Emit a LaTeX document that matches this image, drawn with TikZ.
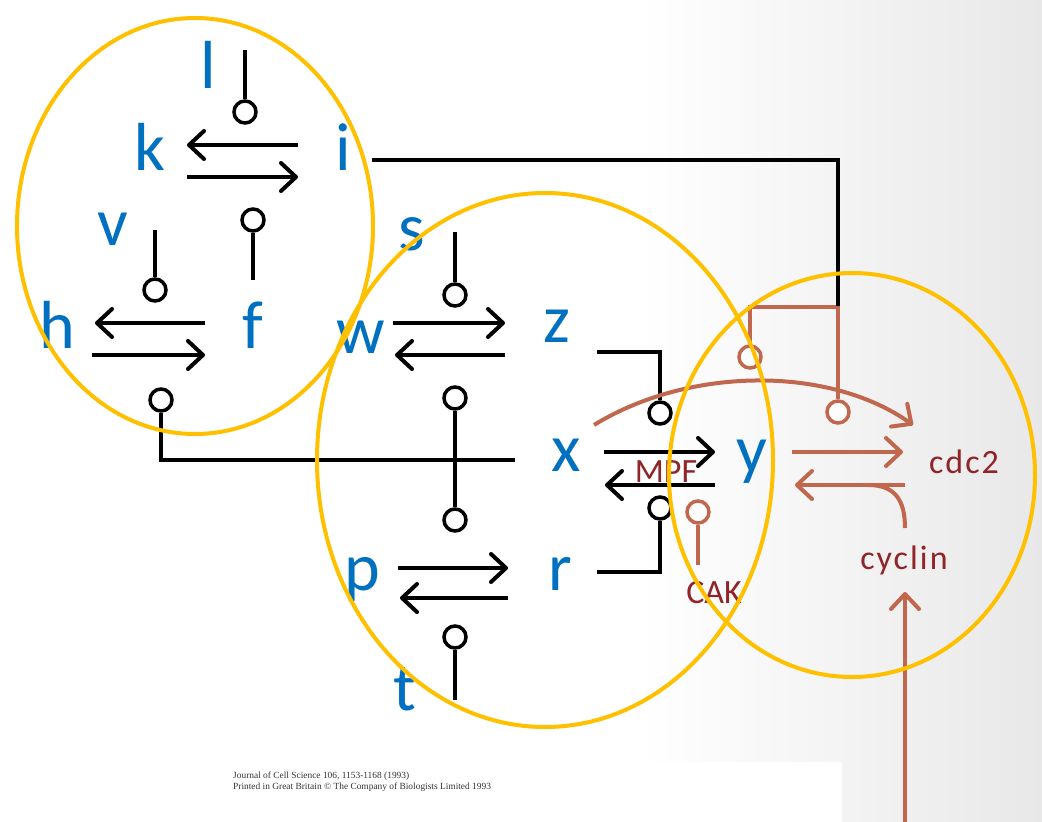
\documentclass[tikz,border=0pt]{standalone}
\usepackage{fontspec}
\setmainfont{Carlito}
\newfontfamily\spacedfont[LetterSpace=6]{Carlito}
\newfontfamily\jfont{Liberation Serif}
\usetikzlibrary{arrows.meta}
\definecolor{lblue}{HTML}{0070C0}
\definecolor{gold}{HTML}{FFC000}
\definecolor{salcol}{HTML}{C0674D}
\definecolor{dred}{HTML}{902428}
\begin{document}
\begin{tikzpicture}[x=1pt,y=-1pt,
  lab/.style={text=lblue, font=\fontsize{68}{68}\selectfont, anchor=base, inner sep=0pt},
  rlab/.style={text=dred, font=\fontsize{34}{34}\selectfont, anchor=base, inner sep=0pt},
  slab/.style={rlab, font=\spacedfont\fontsize{34}{34}\selectfont},
  blk/.style={line width=4pt, draw=black},
  sal/.style={line width=4pt, draw=salcol},
  arr/.style={-{Straight Barb[length=15pt,width=28pt,round]}},
  inh/.style={circle, draw, line width=3.5pt, fill=white, minimum size=22pt, inner sep=0pt},
  ring/.style={draw=gold, line width=4pt},
  jtext/.style={anchor=base west, inner sep=0pt, font=\jfont\fontsize{9.4}{10}\selectfont, text=black!80}]
\useasboundingbox (0,0) rectangle (1042,822);
\fill[white] (0,0) rectangle (1042,822);
\shade[left color=white, right color=black!9] (640,0) rectangle (1042,822);
\fill[white] (220,762) rectangle (842,822);

% labels
\node[lab] (l) at (208,88) {l};
\node[lab] (k) at (150,170) {k};
\node[lab] (i) at (343,170) {i};
\node[lab] (v) at (113,245) {v};
\node[lab] (h) at (57,348) {h};
\node[lab] (f) at (253,348) {f};
\node[lab] (s) at (412,250) {s};
\node[lab] (w) at (361,353) {w};
\node[lab] (z) at (557,342) {z};
\node[lab] (x) at (566,471) {x};
\node[lab] (y) at (752,472) {y};
\node[lab] (p) at (362,590) {p};
\node[lab] (r) at (560,590) {r};
\node[lab] (t) at (405,710) {t};

% k <-> i
\draw[blk,arr] (298,145) -- (187,145);
\draw[blk,arr] (187,177) -- (298,177);
\node[inh] (cl) at (245,112) {};
\draw[blk] (245,50) -- (cl.north);
\node[inh] (cf) at (253,220) {};
\draw[blk] (cf.south) -- (253,280);
% h <-> f
\draw[blk,arr] (205,323) -- (95,323);
\draw[blk,arr] (92,355) -- (205,355);
\node[inh] (cv) at (155,290) {};
\draw[blk] (155,230) -- (cv.north);
\node[inh] (ch) at (161,400) {};
\draw[blk] (ch.south) -- (161,460) -- (515,460);
% salmon junction
\node[inh, draw=salcol] (cm1) at (750,357) {};
\node[inh, draw=salcol] (cm2) at (838,412) {};
\draw[sal] (cm1.north) -- (750,307) -- (838,307) -- (cm2.north);
% i line
\draw[blk] (372,160) -- (838,160) -- (838,306);
% w <-> z
\node[inh] (cs) at (455,295) {};
\draw[blk] (455,232) -- (cs.north);
\draw[blk,arr] (393,323) -- (505,323);
\draw[blk,arr] (505,355) -- (395,355);
\node[inh] (cw) at (455,398) {};
\node[inh] (cp) at (455,520) {};
\draw[blk] (cw.south) -- (cp.north);
% p <-> r
\draw[blk,arr] (398,568) -- (508,568);
\draw[blk,arr] (508,598) -- (400,598);
\node[inh] (ct) at (455,637) {};
\draw[blk] (ct.south) -- (455,700);
% z and r feedback
\node[inh] (cz) at (660,413) {};
\draw[blk] (597,352) -- (660,352) -- (cz.north);
\node[inh] (cr) at (660,508) {};
\draw[blk] (597,572) -- (660,572) -- (cr.south);
% x <-> y
\draw[blk,arr] (604,452) -- (715,452);
\draw[blk,arr] (715,485) -- (605,485);
% CAK
\node[inh, draw=salcol] (cc) at (698,512) {};
\draw[sal] (cc.south) -- (698,565);
% salmon arc
\draw[sal,arr] (594,425) .. controls (690,366) and (830,366) .. (913,425);
% y <-> cdc2
\draw[sal,arr] (792,452) -- (903,452);
\draw[sal,arr] (905,485) -- (795,485);
\draw[sal] (905,528) .. controls (905,500) and (895,485) .. (868,485);
\coordinate (bot) at (905,822);
\draw[sal,arr] (bot) -- (905,592);

% red labels
\node[rlab] (mpf) at (666,482) {MPF};
\node[rlab] (cak) at (714,603) {CAK};
\node[slab] (cdc) at (964,473) {cdc2};
\node[slab] (cyc) at (904,569) {cyclin};

% rings
\draw[ring] (195,226) ellipse [x radius=178, y radius=208];
\draw[ring] (545,460) ellipse [x radius=228, y radius=267];
\draw[ring] (852,475) ellipse [x radius=183, y radius=202];

% journal text
\node[jtext] (j1) at (233,778) {Journal of Cell Science 106, 1153-1168 (1993)};
\node[jtext] (j2) at (233,789) {Printed in Great Britain \textcopyright{} The Company of Biologists Limited 1993};
\end{tikzpicture}
\end{document}
